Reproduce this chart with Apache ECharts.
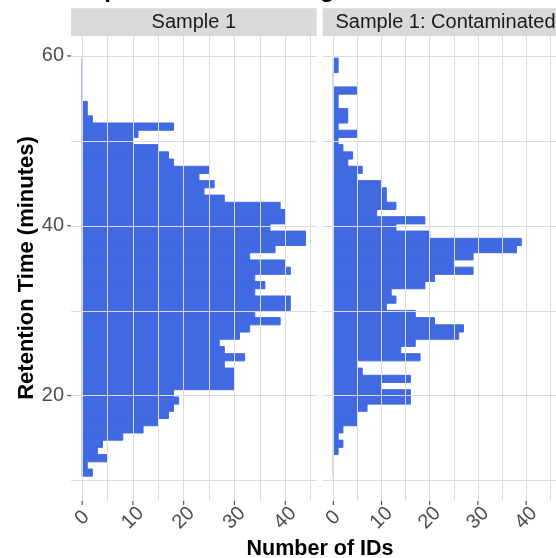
<!DOCTYPE html>
<html>
<head>
<meta charset="utf-8">
<script src="https://cdn.jsdelivr.net/npm/echarts@6/dist/echarts.min.js"></script>
<style>
  html, body { margin: 0; padding: 0; background: #fff; }
  #chart { width: 556px; height: 558px; }
</style>
</head>
<body>
<div id="chart"></div>
<script>
// facets and histogram bins (retention time, minutes)
var panels = ["Sample 1", "Sample 1: Contaminated"];
var binStart = 10.52;
var binWidth = 0.8487;

// counts per bin, lowest retention time first
var sample1Counts = [2, 1, 5, 3, 4, 8, 12, 15, 17, 18,
  19, 18, 30, 30, 30, 28, 32, 28, 27, 31,
  33, 39, 34, 41, 41, 34, 36, 34, 41, 40,
  33, 38, 44, 44, 37, 40, 40, 39, 28, 24,
  26, 23, 25, 18, 17, 15, 10, 11, 18, 2,
  1, 1, 0, 0, 0, 0, 0, 0];
var contaminatedCounts = [0, 0, 0, 1, 2, 1, 2, 5, 5, 7,
  16, 16, 10, 16, 6, 5, 18, 14, 17, 26,
  27, 21, 17, 11, 13, 12, 19, 21, 29, 25,
  29, 38, 39, 20, 13, 19, 9, 13, 11, 11,
  10, 5, 6, 3, 4, 2, 1, 5, 1, 3,
  3, 1, 1, 5, 0, 0, 1, 1];

var yTicks = [20, 40, 60];
var yGrid = [10, 20, 30, 40, 50, 60];
var xTicks = [0, 10, 20, 30, 40];
var xGrid = [0, 5, 10, 15, 20, 25, 30, 35, 40, 45];

var xMin = -2.2, xMax = 46.2;
var yMin = 7.6, yMax = 62.35;

var FONT = "Liberation Sans, Arial, Helvetica, sans-serif";
var BAR = "#4169E1";
var TICK_LEN = 4;

function toBins(counts) {
  return counts.map(function (c, i) {
    var lo = binStart + i * binWidth;
    return [lo, lo + binWidth, c];
  });
}

function renderBar(params, api) {
  var lo = api.value(0), hi = api.value(1), n = api.value(2);
  var p0 = api.coord([0, hi]);
  var p1 = api.coord([n, lo]);
  return {
    type: "rect",
    shape: { x: p0[0], y: p0[1], width: p1[0] - p0[0], height: p1[1] - p0[1] },
    style: {
      fill: n > 0 ? BAR : "none",
      stroke: n > 0 ? BAR : "#5f83e8",
      lineWidth: n > 0 ? 1 : 0.9
    }
  };
}

// tick marks outside the panel, placed by the axis scales
function renderXTick(params, api) {
  var p = api.coord([api.value(0), yMin]);
  return { type: "line", shape: { x1: p[0], y1: p[1], x2: p[0], y2: p[1] + TICK_LEN },
    style: { stroke: "#333333", lineWidth: 1 } };
}
function renderYTick(params, api) {
  var p = api.coord([xMin, api.value(0)]);
  return { type: "line", shape: { x1: p[0] - TICK_LEN, y1: p[1], x2: p[0], y2: p[1] },
    style: { stroke: "#333333", lineWidth: 1 } };
}

var gridLines = yGrid.map(function (v) { return { yAxis: v }; })
  .concat(xGrid.map(function (v) { return { xAxis: v }; }));

var grids = [], xAxes = [], yAxes = [], series = [];
panels.forEach(function (name, i) {
  grids.push({ left: i === 0 ? 71 : 322.7, top: 36, width: 245.7, height: 465 });
  xAxes.push({
    gridIndex: i, type: "value", min: xMin, max: xMax,
    axisLine: { show: false }, splitLine: { show: false }, axisTick: { show: false },
    axisLabel: {
      customValues: xTicks, rotate: 45, align: "center", verticalAlign: "middle",
      margin: 17, color: "#4D4D4D", fontSize: 20, fontFamily: FONT
    }
  });
  yAxes.push({
    gridIndex: i, type: "value", min: yMin, max: yMax,
    axisLine: { show: false }, splitLine: { show: false }, axisTick: { show: false },
    axisLabel: { show: i === 0, customValues: yTicks, margin: 7, color: "#4D4D4D", fontSize: 20, fontFamily: FONT }
  });
  series.push({
    type: "line", xAxisIndex: i, yAxisIndex: i, data: [], z: 1, silent: true,
    markLine: {
      silent: true, symbol: "none", label: { show: false }, animation: false,
      lineStyle: { color: "#DCDCDC", width: 1, type: "solid" },
      data: gridLines
    }
  });
  series.push({
    type: "custom", name: name, xAxisIndex: i, yAxisIndex: i, z: 2,
    renderItem: renderBar,
    encode: { x: 2, y: [0, 1] },
    data: toBins(i === 0 ? sample1Counts : contaminatedCounts)
  });
  series.push({
    type: "custom", xAxisIndex: i, yAxisIndex: i, z: 3, clip: false, silent: true,
    renderItem: renderXTick, encode: { x: 0 },
    data: xTicks.map(function (v) { return [v]; })
  });
});
series.push({
  type: "custom", xAxisIndex: 0, yAxisIndex: 0, z: 3, clip: false, silent: true,
  renderItem: renderYTick, encode: { y: 0 },
  data: yTicks.map(function (v) { return [v]; })
});

var graphics = [];
panels.forEach(function (name, i) {
  var left = grids[i].left;
  graphics.push({
    type: "rect", shape: { x: left, y: 8.3, width: 245.7, height: 27.7 },
    style: { fill: "#D9D9D9" }, silent: true
  });
  graphics.push({
    type: "text", x: left + 245.7 / 2, y: 22.3,
    style: { text: name, align: "center", verticalAlign: "middle", fontSize: 20, fill: "#1A1A1A", fontFamily: FONT }
  });
});
// plot title, mostly above the visible area
graphics.push({
  type: "text", x: 75, y: -10,
  style: { text: "Peptide Elution Timing", align: "left", verticalAlign: "middle", fontSize: 24, fontWeight: "bold", fill: "#000", fontFamily: FONT }
});
graphics.push({
  type: "text", x: 27, y: 268, rotation: Math.PI / 2,
  style: { text: "Retention Time (minutes)", align: "center", verticalAlign: "middle", fontSize: 22, fontWeight: "bold", fill: "#000", fontFamily: FONT }
});
graphics.push({
  type: "text", x: 320, y: 549,
  style: { text: "Number of IDs", align: "center", verticalAlign: "middle", fontSize: 21.5, fontWeight: "bold", fill: "#000", fontFamily: FONT }
});

var myChart = echarts.init(document.getElementById("chart"));
myChart.setOption({
  animation: false,
  backgroundColor: "#fff",
  grid: grids,
  xAxis: xAxes,
  yAxis: yAxes,
  series: series,
  graphic: graphics
});
</script>
</body>
</html>
